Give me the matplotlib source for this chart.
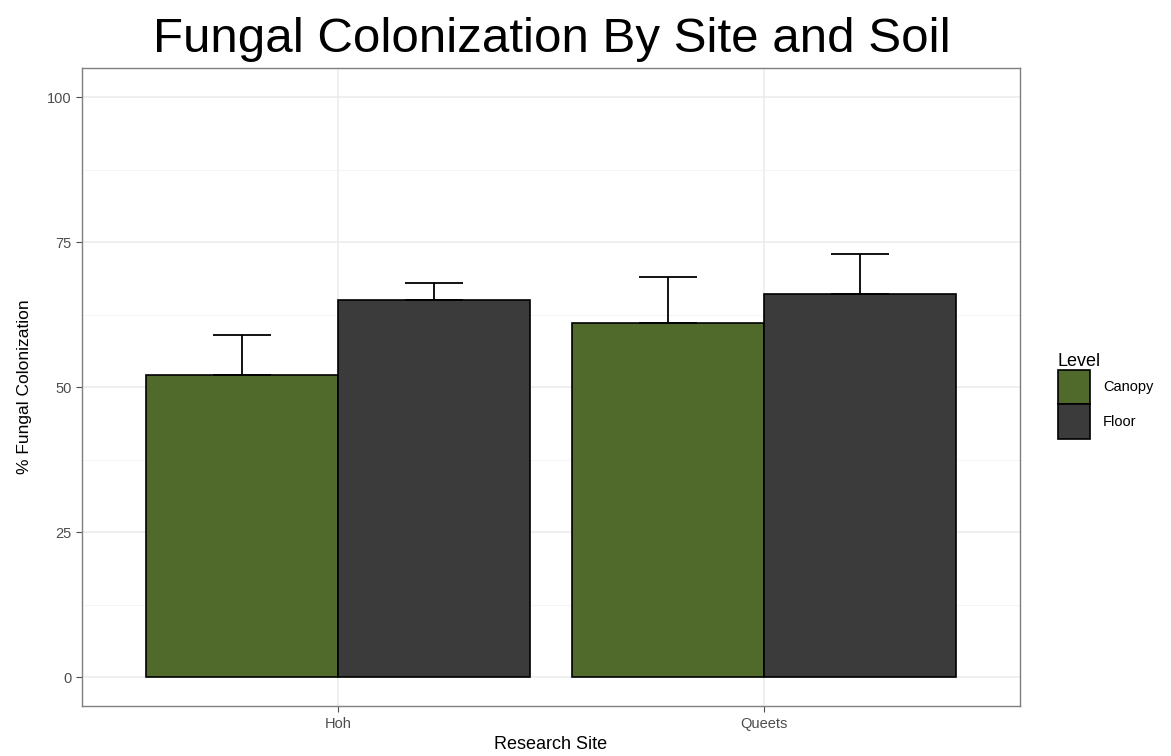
import matplotlib
matplotlib.use('Agg')
import matplotlib.pyplot as plt
import numpy as np
from matplotlib.patches import Patch

plt.rcParams['font.family'] = ['Liberation Sans', 'DejaVu Sans']

# Data
sites = ['Hoh', 'Queets']
levels = ['Canopy', 'Floor']
means = {'Canopy': [52, 61], 'Floor': [65, 66]}
upper = {'Canopy': [59, 69], 'Floor': [68, 73]}
colors = {'Canopy': '#4f6a2a', 'Floor': '#3b3b3b'}

fig = plt.figure(figsize=(11.71, 7.56), dpi=100)
ax = fig.add_axes([0.070, 0.066, 0.801, 0.844])

x = np.arange(len(sites))
width = 0.45
for i, lvl in enumerate(levels):
    pos = x + (i - 0.5) * width
    ax.bar(pos, means[lvl], width=width, color=colors[lvl],
           edgecolor='black', linewidth=1.2, zorder=3)
    err = np.array(upper[lvl]) - np.array(means[lvl])
    ax.errorbar(pos, means[lvl], yerr=[np.zeros_like(err), err], fmt='none',
                ecolor='black', elinewidth=1.3, capsize=21, capthick=1.3, zorder=4)

# Panel styling (theme_bw look)
ax.set_xlim(-0.6, 1.6)
ax.set_ylim(-5, 105)
ax.set_yticks([0, 25, 50, 75, 100])
ax.set_yticks([12.5, 37.5, 62.5, 87.5], minor=True)
ax.set_xticks(x)
ax.set_xticklabels(sites)
ax.grid(which='major', color='#ebebeb', linewidth=1.1, zorder=0)
ax.grid(which='minor', axis='y', color='#f2f2f2', linewidth=0.6, zorder=0)
ax.tick_params(axis='both', which='major', labelsize=10.5, colors='#4d4d4d',
               length=4, width=0.8, labelcolor='#4d4d4d')
ax.tick_params(axis='both', which='minor', length=0)
for s in ax.spines.values():
    s.set_color('#7f7f7f')
    s.set_linewidth(1.0)

ax.set_xlabel('Research Site', fontsize=13, labelpad=4)
ax.set_ylabel('% Fungal Colonization', fontsize=12.5, labelpad=11)
fig.text(0.471, 0.948, 'Fungal Colonization By Site and Soil', fontsize=35.5,
         ha='center', va='center')

handles = [Patch(facecolor=colors[l], edgecolor='black', linewidth=1.2) for l in levels]
leg = fig.legend(handles, levels, title='Level', loc='upper left',
                 bbox_to_anchor=(0.892, 0.551), frameon=False, fontsize=10.5,
                 title_fontsize=13, handlelength=2.2, handleheight=3.3,
                 labelspacing=0.0, handletextpad=0.9)
leg._legend_box.align = 'left'

fig.savefig('out.png', dpi=100)
